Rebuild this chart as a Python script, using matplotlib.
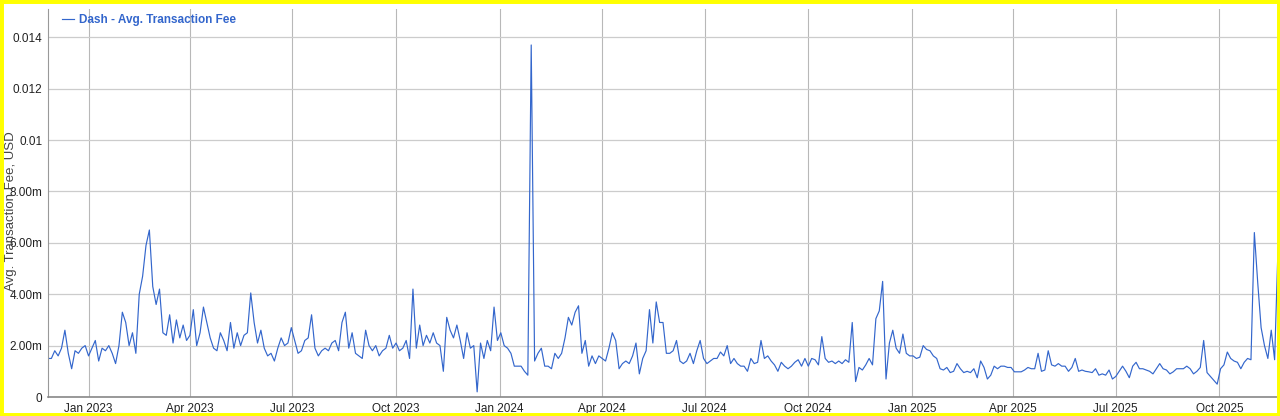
#!/usr/bin/env python
#
# Dash - average transaction fee (USD), sampled every 3 days

import matplotlib
matplotlib.use('Agg')
import matplotlib.pyplot as plt
from matplotlib.patches import Rectangle
import pandas as pd

# fee values in milli-USD, every 3 days from 2022-11-26
start_date = '2022-11-26'
fee_nov22_feb23 = [1.5, 1.5, 1.8, 1.6, 1.9, 2.6, 1.7, 1.1, 1.8, 1.7,
                   1.9, 2.0, 1.6, 1.9, 2.2, 1.4, 1.9, 1.8, 2.0, 1.7,
                   1.3, 2.0, 3.3, 2.9, 2.0, 2.5, 1.7, 4.0, 4.7, 5.9,
                   6.5, 4.3, 3.6, 4.2, 2.5, 2.4, 3.2, 2.1, 3.0, 2.3,
                   2.8, 2.2, 2.4, 3.4, 2.0, 2.5]
fee_may23_sep23 = [3.5, 2.9, 2.3, 1.9, 1.8, 2.5, 2.2, 1.8, 2.9, 1.9,
                   2.5, 2.0, 2.4, 2.5, 4.05, 2.9, 2.1, 2.6, 1.9, 1.6,
                   1.7, 1.4, 1.9, 2.3, 2.0, 2.1, 2.7, 2.2, 1.7, 1.8,
                   2.2, 2.3, 3.2, 1.9, 1.6, 1.8, 1.9, 1.8, 2.1, 2.2,
                   1.8, 2.9, 3.3, 1.9, 2.5]
fee_sep23_jan24 = [1.7, 1.6, 1.5, 2.6, 2.0, 1.8, 2.0, 1.6, 1.8, 1.9,
                   2.4, 1.9, 2.1, 1.8, 1.9, 2.2, 1.5, 4.2, 1.9, 2.8,
                   2.0, 2.4, 2.1, 2.5, 2.1, 2.0, 1.0, 3.1, 2.6, 2.3,
                   2.8, 2.2, 1.5, 2.5, 1.9, 2.0, 0.2, 2.1, 1.5, 2.2,
                   1.8, 3.5, 2.2, 2.5, 2.0]
fee_jan24_may24 = [1.9, 1.7, 1.2, 1.2, 1.2, 1.0, 0.85, 13.7, 1.4, 1.7,
                   1.9, 1.2, 1.2, 1.1, 1.7, 1.5, 1.7, 2.3, 3.1, 2.8,
                   3.3, 3.55, 1.7, 2.2, 1.2, 1.6, 1.3, 1.6, 1.5, 1.4,
                   1.9, 2.5, 2.2, 1.1, 1.3, 1.4, 1.3, 1.6, 2.1, 0.9,
                   1.5, 1.8, 3.4, 2.1, 3.7]
fee_may24_oct24 = [2.9, 2.9, 1.7, 1.7, 1.8, 2.2, 1.4, 1.3, 1.4, 1.7,
                   1.3, 1.8, 2.2, 1.5, 1.3, 1.4, 1.5, 1.5, 1.75, 1.6,
                   2.0, 1.3, 1.5, 1.3, 1.2, 1.2, 1.0, 1.5, 1.3, 1.35,
                   2.2, 1.5, 1.6, 1.4, 1.25, 1.0, 1.35, 1.2, 1.1, 1.2,
                   1.35, 1.45, 1.2, 1.5, 1.2]
fee_oct24_feb25 = [1.5, 1.45, 1.25, 2.35, 1.5, 1.35, 1.4, 1.3, 1.4, 1.3,
                   1.45, 1.35, 2.9, 0.6, 1.15, 1.05, 1.25, 1.5, 1.25, 3.05,
                   3.35, 4.5, 0.7, 2.1, 2.6, 1.9, 1.7, 2.45, 1.7, 1.6,
                   1.6, 1.5, 1.55, 2.0, 1.85, 1.8, 1.6, 1.5, 1.1, 1.05,
                   1.15, 0.95, 1.0, 1.3, 1.1]
fee_feb25_jun25 = [0.95, 1.0, 0.95, 1.1, 0.75, 1.4, 1.15, 0.7, 0.85, 1.2,
                   1.1, 1.2, 1.2, 1.15, 1.15, 0.98, 0.98, 0.98, 1.05, 1.15,
                   1.1, 1.1, 1.7, 1.0, 1.05, 1.8, 1.25, 1.2, 1.3, 1.2,
                   1.2, 1.0, 1.15, 1.5, 1.0, 1.05, 1.0, 0.98, 0.95, 1.1,
                   0.85, 0.9, 0.85, 1.05, 0.7]
fee_jul25_nov25 = [0.8, 1.0, 1.2, 1.0, 0.75, 1.2, 1.35, 1.1, 1.1, 1.05,
                   1.0, 0.9, 1.1, 1.3, 1.1, 1.05, 0.9, 0.98, 1.1, 1.1,
                   1.1, 1.2, 1.1, 0.9, 1.0, 1.15, 2.2, 0.95, 0.8, 0.65,
                   0.5, 1.1, 1.25, 1.75, 1.5, 1.4, 1.35, 1.1, 1.35, 1.5,
                   1.45, 6.4, 4.45, 2.7, 2.0, 1.5, 2.6, 1.45, 5.8]

ytick_values = [0, 0.002, 0.004, 0.006, 0.008, 0.010, 0.012, 0.014]
ytick_labels = ['0', '2.00m', '4.00m', '6.00m', '8.00m', '0.01', '0.012', '0.014']
xtick_dates = ['2023-01-01', '2023-04-01', '2023-07-01', '2023-10-01',
               '2024-01-01', '2024-04-01', '2024-07-01', '2024-10-01',
               '2025-01-01', '2025-04-01', '2025-07-01', '2025-10-01']
xtick_labels = ['Jan 2023', 'Apr 2023', 'Jul 2023', 'Oct 2023',
                'Jan 2024', 'Apr 2024', 'Jul 2024', 'Oct 2024',
                'Jan 2025', 'Apr 2025', 'Jul 2025', 'Oct 2025']

fee_m = (fee_nov22_feb23 + fee_may23_sep23 + fee_sep23_jan24 + fee_jan24_may24
         + fee_may24_oct24 + fee_oct24_feb25 + fee_feb25_jun25 + fee_jul25_nov25)
dates = pd.date_range(start_date, periods=len(fee_m), freq='3D')
fee = [v / 1000.0 for v in fee_m]

plt.rcParams['font.family'] = ['Liberation Sans', 'DejaVu Sans']

fig = plt.figure(figsize=(12.8, 4.16), dpi=100)
ax = fig.add_axes([48 / 1280, 19 / 416, 1230 / 1280, 388 / 416])

line_color = '#3366cc'
ax.plot(dates, fee, color=line_color, lw=0.85, label='Dash - Avg. Transaction Fee')

ax.set_xlim(dates[0], dates[-1])
ax.set_ylim(0, 0.0151)

ax.set_yticks(ytick_values)
ax.set_yticklabels(ytick_labels)
ax.set_xticks(pd.to_datetime(xtick_dates))
ax.set_xticklabels(xtick_labels)
ax.tick_params(axis='both', length=0, labelsize=8.5, labelcolor='#222222')
ax.tick_params(axis='y', pad=4)
ax.tick_params(axis='x', pad=4)

ax.grid(True, axis='y', color='#cccccc', lw=0.9)
ax.grid(True, axis='x', color='#b8b8b8', lw=0.8)
ax.set_axisbelow(True)
for side in ('top', 'right'):
    ax.spines[side].set_visible(False)
ax.spines['left'].set_color('#999999')
ax.spines['bottom'].set_color('#888888')
ax.spines['bottom'].set_linewidth(1.2)

ax.set_ylabel('Avg. Transaction Fee, USD', fontsize=9.5, color='#444444')
ax.yaxis.set_label_coords(-0.025, 0.48)

leg = ax.legend(loc='upper left', bbox_to_anchor=(0.0115, 0.988), frameon=False,
                handlelength=1.0, handletextpad=0.45, borderpad=0, borderaxespad=0,
                prop={'size': 8.5, 'weight': 'bold'})
for txt in leg.get_texts():
    txt.set_color(line_color)

# yellow frame round the whole picture
fig.patches.append(Rectangle((0, 0), 1, 1, transform=fig.transFigure, fill=False,
                             edgecolor='#ffff00', lw=5, zorder=10))

fig.savefig('out.png', dpi=100)
